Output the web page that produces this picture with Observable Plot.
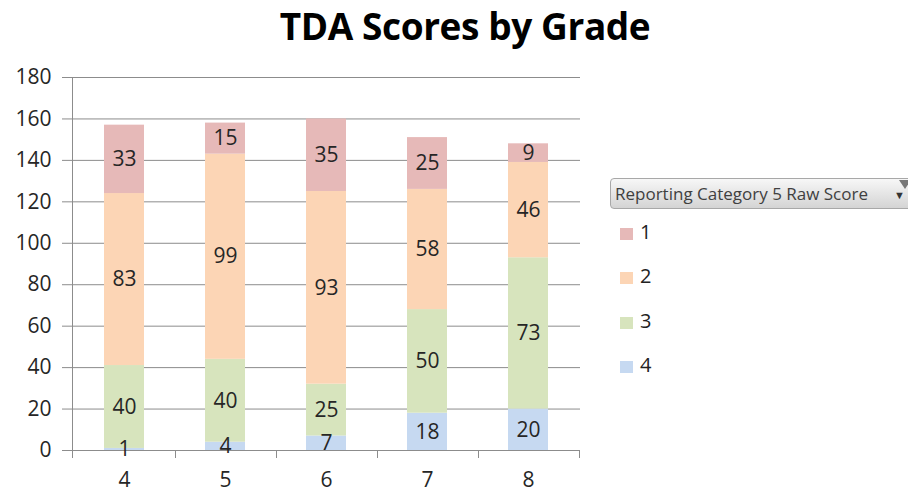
<!DOCTYPE html>
<html>
<head>
<meta charset="utf-8">
<script src="https://cdn.jsdelivr.net/npm/d3@7"></script>
<script src="https://cdn.jsdelivr.net/npm/@observablehq/plot@0.6"></script>
<style>
  html, body { margin: 0; padding: 0; background: #fff; }
  #wrap { position: relative; width: 908px; height: 492px; overflow: hidden; font-family: "Open Sans", sans-serif; }
  #title { position: absolute; left: 22px; top: 0; width: 886px; text-align: center; font-family: "Open Sans", sans-serif; font-weight: 700; font-size: 37px; line-height: 52px; color: #000; letter-spacing: -0.4px; white-space: nowrap; }
  #chart { position: absolute; left: 0; top: 56px; }
  #legend { position: absolute; left: 610px; top: 178px; width: 298px; }
  #lhead { height: 31px; width: 310px; box-sizing: border-box; border: 1px solid #a8a8a8; border-radius: 4px; background: linear-gradient(#f7f7f7, #d4d4d4); font-size: 17px; line-height: 29px; padding-left: 4px; color: #404040; position: relative; white-space: nowrap; }
  #lhead .arr { position: absolute; left: 283px; top: 1px; font-size: 11px; color: #333; }
  #lhead .flt { position: absolute; left: 288px; top: 1px; width: 0; height: 0; border-left: 6px solid transparent; border-right: 6px solid transparent; border-top: 9px solid #777; }
  .item { position: absolute; left: 10px; height: 24px; font-size: 20px; line-height: 24px; color: #222; }
  .item span { display: inline-block; width: 13px; height: 12px; margin-right: 7px; vertical-align: -1px; }
</style>
</head>
<body>
<div id="wrap">
  <div id="title"></div>
  <div id="chart"></div>
  <div id="legend"></div>
</div>
<script>
const titleText = "TDA Scores by Grade";
const legendTitle = "Reporting Category 5 Raw Score";
const grades = ["4", "5", "6", "7", "8"];
const stackOrder = ["4", "3", "2", "1"];      // bottom to top
const legendOrder = ["1", "2", "3", "4"];
const score1 = [33, 15, 35, 25, 9];
const score2 = [83, 99, 93, 58, 46];
const score3 = [40, 40, 25, 50, 73];
const score4 = [1, 4, 7, 18, 20];
const yTicks = [0, 20, 40, 60, 80, 100, 120, 140, 160, 180];
const catColors = {"1": "#e6b9b8", "2": "#fcd5b5", "3": "#d7e4bd", "4": "#c6d9f1"};

const series = {"1": score1, "2": score2, "3": score3, "4": score4};
const data = [];
for (const c of stackOrder) grades.forEach((g, i) => data.push({grade: g, cat: c, value: series[c][i]}));

document.getElementById("title").textContent = titleText;

const gridColor = "#8c8c8c";

const boundaryMark = (index, scales, values, dims) => {
  const x = scales.x;
  const step = x.step ? x.step() : x.bandwidth() / 0.4;
  const g = d3.create("svg:g").attr("stroke", gridColor).attr("stroke-width", 1);
  const yb = dims.height - dims.marginBottom;
  const left = dims.marginLeft;
  g.append("line").attr("x1", left + 0.5).attr("x2", left + 0.5).attr("y1", dims.marginTop).attr("y2", yb + 8);
  grades.forEach((gr) => {
    const xr = x(gr) + x.bandwidth() / 2 + step / 2;
    g.append("line").attr("x1", Math.round(xr) + 0.5).attr("x2", Math.round(xr) + 0.5).attr("y1", yb).attr("y2", yb + 8);
  });
  return g.node();
};

const plot = Plot.plot({
  width: 908,
  height: 436,
  marginTop: 21,
  marginBottom: 42,
  marginLeft: 72,
  marginRight: 328,
  style: {fontFamily: "Open Sans, sans-serif", fontSize: "21px", color: "#262626", background: "transparent"},
  x: {domain: grades, paddingInner: 0.6, paddingOuter: 0.3, label: null},
  y: {domain: [0, 180], label: null},
  color: {domain: Object.keys(catColors), range: Object.values(catColors)},
  marks: [
    Plot.gridY(yTicks, {stroke: gridColor, strokeOpacity: 1}),
    Plot.axisY(yTicks, {tickSize: 10, stroke: gridColor, tickPadding: 11, fontSize: 21, fill: "#262626", label: null}),
    Plot.axisX({tickSize: 0, tickPadding: 22, fontSize: 21, fill: "#262626", label: null}),
    Plot.barY(data, Plot.stackY({x: "grade", y: "value", z: "cat", order: stackOrder, fill: "cat"})),
    Plot.text(data, Plot.stackY({x: "grade", y: "value", z: "cat", order: stackOrder, text: "value", fontSize: 21, fill: "#262626"})),
    boundaryMark
  ]
});
document.getElementById("chart").appendChild(plot);

const leg = document.getElementById("legend");
const head = document.createElement("div");
head.id = "lhead";
head.innerHTML = `${legendTitle}<span class="arr">&#9660;</span><span class="flt"></span>`;
leg.appendChild(head);
legendOrder.forEach((c, i) => {
  const it = document.createElement("div");
  it.className = "item";
  it.style.top = (42 + i * 44.3) + "px";
  it.innerHTML = `<span style="background:${catColors[c]}"></span>${c}`;
  leg.appendChild(it);
});
</script>
</body>
</html>
